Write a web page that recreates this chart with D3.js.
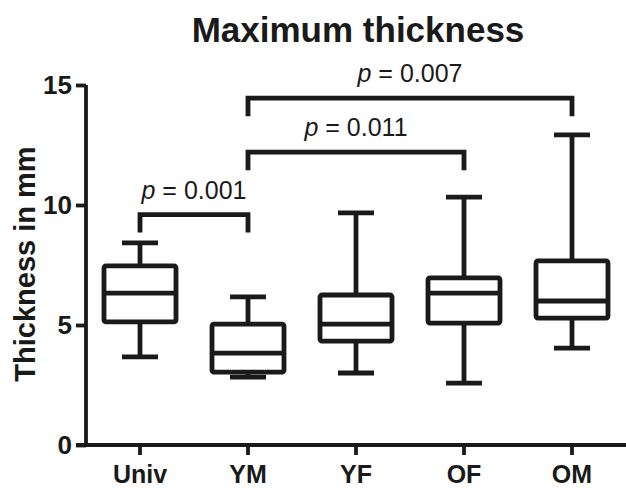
<!DOCTYPE html>
<html>
<head>
<meta charset="utf-8">
<title>Maximum thickness</title>
<script src="https://d3js.org/d3.v7.min.js"></script>
<style>
  body { margin: 0; background: #fff; }
  text { font-family: "Liberation Sans", Arial, sans-serif; fill: #1a1a1a; }
</style>
</head>
<body>
<div id="chartDiv"></div>
<script>
// groups and box statistics (mm)
var groups   = ["Univ", "YM", "YF", "OF", "OM"];
var whiskLo  = [3.67, 2.83, 3.0, 2.58, 4.04];
var q1       = [5.13, 3.04, 4.33, 5.08, 5.29];
var median   = [6.33, 3.83, 5.04, 6.33, 6.0];
var q3       = [7.46, 5.04, 6.25, 6.96, 7.67];
var whiskHi  = [8.42, 6.17, 9.67, 10.33, 12.92];

// significance brackets
var pairs    = [["Univ", "YM"], ["YM", "OF"], ["YM", "OM"]];
var pLabels  = ["0.001", "0.011", "0.007"];
var pLevel   = [9.6, 12.2, 14.45];

var yTicks   = [0, 5, 10, 15];

var W = 626, H = 488;
var ink = "#1a1a1a";

var svg = d3.select("#chartDiv").append("svg")
  .attr("width", W)
  .attr("height", H);

var x = d3.scaleBand().domain(groups).range([86, 626]).padding(0);
var y = d3.scaleLinear().domain([0, 15]).range([445, 85]);

var cx = function(g) { return x(g) + x.bandwidth() / 2; };

// title
svg.append("text")
  .attr("x", 358)
  .attr("y", 42)
  .attr("text-anchor", "middle")
  .style("font-size", "35px")
  .style("font-weight", "bold")
  .text("Maximum thickness");

// y axis label
svg.append("text")
  .attr("transform", "translate(35," + 264 + ") rotate(-90)")
  .attr("text-anchor", "middle")
  .style("font-size", "29px")
  .style("font-weight", "bold")
  .text("Thickness in mm");

// axes
var yAxis = d3.axisLeft(y).tickValues(yTicks).tickSize(10).tickSizeOuter(0).tickPadding(4);
var gy = svg.append("g").attr("transform", "translate(86,0)").call(yAxis);

var xAxis = d3.axisBottom(x).tickSize(10).tickSizeOuter(0).tickPadding(10);
var gx = svg.append("g").attr("transform", "translate(0,445)").call(xAxis);

[gy, gx].forEach(function(g) {
  g.select(".domain").attr("stroke", ink).attr("stroke-width", 3.8);
  g.selectAll(".tick line").attr("stroke", ink).attr("stroke-width", 3.8);
  g.selectAll(".tick text")
    .style("font-family", "'Liberation Sans', Arial, sans-serif")
    .style("font-size", "26px")
    .style("font-weight", "bold")
    .attr("fill", ink);
});
gx.selectAll(".tick text").style("font-size", "25px");
gy.select(".domain").attr("d", "M0," + y(0) + "V" + y(15));
gx.select(".domain").attr("d", "M76,0H626");

// boxes
var boxW = 72, capW = 36, sw = 4.8;
var boxes = svg.append("g").attr("stroke", ink).attr("stroke-width", sw).attr("fill", "none");

groups.forEach(function(g, i) {
  var c = cx(g);
  var b = boxes.append("g");
  // whiskers
  b.append("line").attr("x1", c).attr("x2", c).attr("y1", y(q3[i])).attr("y2", y(whiskHi[i]));
  b.append("line").attr("x1", c).attr("x2", c).attr("y1", y(q1[i])).attr("y2", y(whiskLo[i]));
  b.append("line").attr("x1", c - capW / 2).attr("x2", c + capW / 2).attr("y1", y(whiskHi[i])).attr("y2", y(whiskHi[i]));
  b.append("line").attr("x1", c - capW / 2).attr("x2", c + capW / 2).attr("y1", y(whiskLo[i])).attr("y2", y(whiskLo[i]));
  // box
  b.append("rect")
    .attr("x", c - boxW / 2)
    .attr("y", y(q3[i]))
    .attr("width", boxW)
    .attr("height", y(q1[i]) - y(q3[i]))
    .attr("rx", 2)
    .attr("fill", "#fff");
  // median
  b.append("line").attr("x1", c - boxW / 2).attr("x2", c + boxW / 2).attr("y1", y(median[i])).attr("y2", y(median[i]));
});

// brackets
var brk = svg.append("g");
pairs.forEach(function(p, i) {
  var x1 = cx(p[0]), x2 = cx(p[1]);
  var top = y(pLevel[i]), leg = top + 18;
  brk.append("path")
    .attr("d", "M" + x1 + "," + leg + "V" + top + "H" + x2 + "V" + leg)
    .attr("fill", "none")
    .attr("stroke", ink)
    .attr("stroke-width", 4.8);
  var t = brk.append("text")
    .attr("x", (x1 + x2) / 2)
    .attr("y", top - 16)
    .attr("text-anchor", "middle")
    .style("font-size", "25px");
  t.append("tspan").style("font-style", "italic").text("p");
  t.append("tspan").text(" = " + pLabels[i]);
});
</script>
</body>
</html>
